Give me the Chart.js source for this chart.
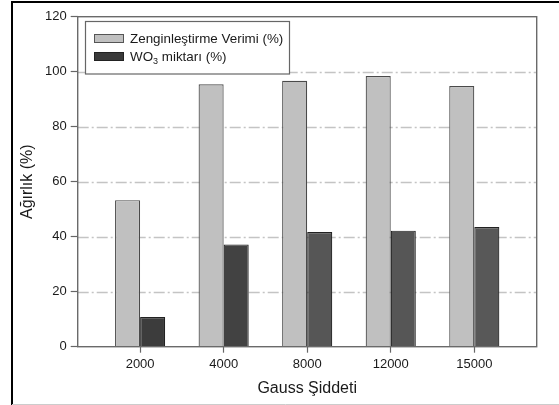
<!DOCTYPE html>
<html><head><meta charset="utf-8">
<script src="https://cdn.jsdelivr.net/npm/chart.js@4.4.1/dist/chart.umd.min.js"></script>
<style>html,body{margin:0;padding:0;background:#fff;} #wrap{width:559px;height:405px;position:relative;}</style>
</head><body><div id="wrap"><canvas id="c" width="559" height="405"></canvas></div>
<script>
const categories = ['2000', '4000', '8000', '12000', '15000'];
const enrichment = [53.3, 95.4, 96.7, 98.4, 94.8];
const wo3 = [10.8, 37.2, 41.7, 42.2, 43.5];
const yTicks = [0, 20, 40, 60, 80, 100, 120];
const gridValues = [20, 40, 60, 80, 100];
const seriesNames = ['Zenginleştirme Verimi (%)', 'WO', '3', ' miktarı (%)'];
const xTitle = 'Gauss Şiddeti';
const yTitle = 'Ağırlık (%)';

const FONT = '"Liberation Sans", Arial, sans-serif';
const TXT = '#1a1a1a';

const decor = {
  id: 'decor',
  beforeDraw(chart) {
    const ctx = chart.ctx;
    ctx.save();
    ctx.fillStyle = '#fff';
    ctx.fillRect(0, 0, chart.width, chart.height);
    ctx.strokeStyle = '#000';
    ctx.lineWidth = 2;
    ctx.beginPath();
    ctx.moveTo(12, 405);
    ctx.lineTo(12, 2);
    ctx.lineTo(559, 2);
    ctx.stroke();
    ctx.strokeStyle = '#ccc';
    ctx.lineWidth = 1;
    ctx.beginPath();
    ctx.moveTo(12, 404.5);
    ctx.lineTo(559, 404.5);
    ctx.stroke();
    ctx.restore();
  },
  beforeDatasetsDraw(chart) {
    const ctx = chart.ctx, a = chart.chartArea, y = chart.scales.y;
    ctx.save();
    ctx.strokeStyle = '#c4c4c4';
    ctx.lineWidth = 1.3;
    ctx.setLineDash([11, 3, 2, 3]);
    gridValues.forEach(v => {
      const py = Math.round(y.getPixelForValue(v)) + 0.5;
      ctx.beginPath();
      ctx.moveTo(a.left, py);
      ctx.lineTo(a.right, py);
      ctx.stroke();
    });
    ctx.restore();
  },
  afterDatasetsDraw(chart) {
    const ctx = chart.ctx, a = chart.chartArea;
    ctx.save();
    ctx.strokeStyle = '#6a6a6a';
    ctx.lineWidth = 1.4;
    ctx.strokeRect(a.left, a.top, a.right - a.left, a.bottom - a.top);
    // legend
    ctx.fillStyle = '#fff';
    ctx.fillRect(85.5, 21.5, 204, 52.5);
    ctx.strokeStyle = '#666';
    ctx.lineWidth = 1.2;
    ctx.strokeRect(85.5, 21.5, 204, 52.5);
    ctx.lineWidth = 1;
    ctx.fillStyle = '#c0c0c0';
    ctx.fillRect(94.5, 34.5, 29, 8);
    ctx.strokeStyle = '#555';
    ctx.strokeRect(94.5, 34.5, 29, 8);
    ctx.fillStyle = '#3a3a3a';
    ctx.fillRect(94.5, 52.5, 29, 8);
    ctx.strokeStyle = '#222';
    ctx.strokeRect(94.5, 52.5, 29, 8);
    ctx.fillStyle = TXT;
    ctx.textBaseline = 'alphabetic';
    ctx.textAlign = 'left';
    ctx.font = '13.4px ' + FONT;
    ctx.fillText(seriesNames[0], 130, 42.5);
    let x = 130;
    ctx.fillText(seriesNames[1], x, 60.5);
    x += ctx.measureText(seriesNames[1]).width;
    ctx.font = '9px ' + FONT;
    ctx.fillText(seriesNames[2], x, 63.5);
    x += ctx.measureText(seriesNames[2]).width;
    ctx.font = '13.4px ' + FONT;
    ctx.fillText(seriesNames[3], x, 60.5);
    ctx.restore();
  }
};

new Chart(document.getElementById('c'), {
  type: 'bar',
  data: {
    datasets: [
      {
        label: 'Zenginleştirme Verimi (%)',
        data: enrichment.map((v, i) => ({x: i, y: v})),
        backgroundColor: '#c0c0c0',
        borderColor: '#4a4a4a',
        borderWidth: 1.2,
        categoryPercentage: 0.6,
        barPercentage: 1.0
      },
      {
        label: 'WO3 miktarı (%)',
        data: wo3.map((v, i) => ({x: i, y: v})),
        backgroundColor: ['#3c3c3c', '#424242', '#565656', '#565656', '#585858'],
        borderColor: '#222',
        borderWidth: 1.2,
        categoryPercentage: 0.6,
        barPercentage: 1.0
      }
    ]
  },
  options: {
    responsive: false,
    animation: false,
    devicePixelRatio: 1,
    layout: {padding: {top: 16.7, right: 22.3, left: 0, bottom: 0}},
    plugins: {legend: {display: false}, tooltip: {enabled: false}},
    scales: {
      x: {
        type: 'linear',
        offset: false,
        min: -0.747,
        max: 4.747,
        afterBuildTicks: s => { s.ticks = categories.map((_, i) => ({value: i})); },
        afterFit: s => { s.height = 58.3; s.paddingLeft = 0; s.paddingRight = 0; },
        ticks: {
          callback: v => categories[v],
          font: {family: FONT, size: 13},
          color: TXT,
          padding: 4,
          maxRotation: 0,
          autoSkip: false
        },
        grid: {offset: false, drawOnChartArea: false, tickLength: 6, tickColor: '#666', tickWidth: 1.2},
        border: {display: false},
        title: {display: true, text: xTitle, color: TXT, font: {family: FONT, size: 16}, padding: {top: 0, bottom: 7}}
      },
      y: {
        min: 0,
        max: 120,
        afterBuildTicks: s => { s.ticks = yTicks.map(v => ({value: v})); },
        afterFit: s => { s.width = 77.7; },
        ticks: {font: {family: FONT, size: 13}, color: TXT, padding: 4},
        grid: {drawOnChartArea: false, tickLength: 7, tickColor: '#666', tickWidth: 1.2},
        border: {display: false},
        title: {display: true, text: yTitle, color: TXT, font: {family: FONT, size: 16}, padding: {top: 18, bottom: 0}}
      }
    }
  },
  plugins: [decor]
});
</script></body></html>
